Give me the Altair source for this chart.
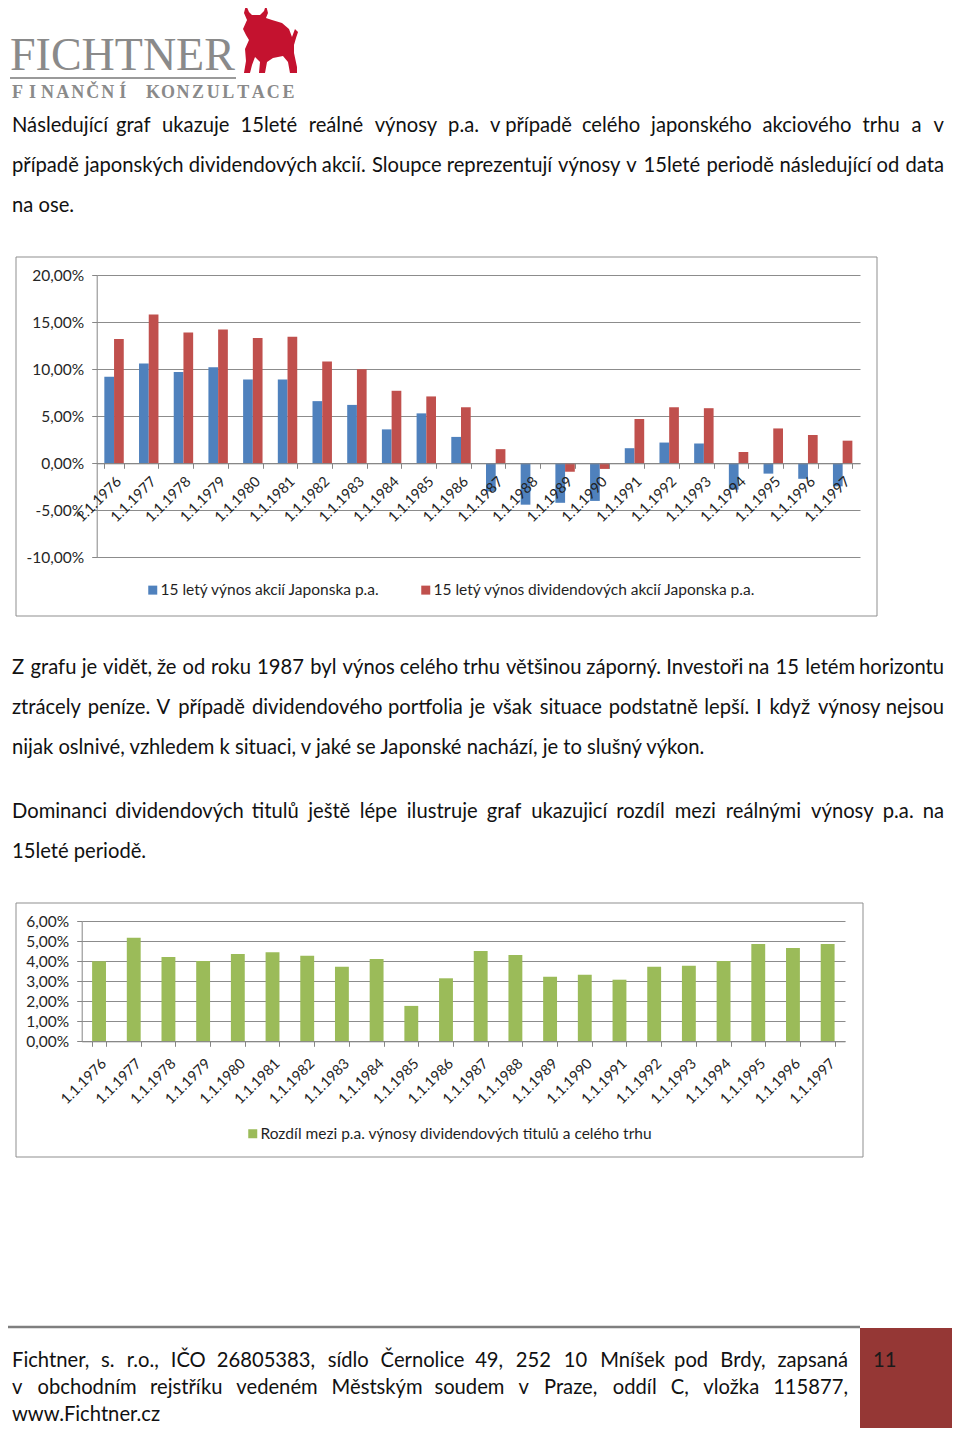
import unicodedata
import altair as alt
import pandas as pd

W, H = 944, 1420

# ---------------- data ----------------
dates = ["1.1.1976", "1.1.1977", "1.1.1978", "1.1.1979", "1.1.1980", "1.1.1981",
         "1.1.1982", "1.1.1983", "1.1.1984", "1.1.1985", "1.1.1986", "1.1.1987",
         "1.1.1988", "1.1.1989", "1.1.1990", "1.1.1991", "1.1.1992", "1.1.1993",
         "1.1.1994", "1.1.1995", "1.1.1996", "1.1.1997"]
market = [9.2, 10.6, 9.7, 10.2, 8.9, 8.9, 6.6, 6.2, 3.6, 5.3, 2.8, -3.0,
          -4.4, -4.2, -4.0, 1.6, 2.2, 2.1, -2.8, -1.1, -1.65, -2.45]
dividend = [13.2, 15.8, 13.9, 14.2, 13.3, 13.45, 10.8, 10.0, 7.7, 7.1, 5.95, 1.5,
            0.0, -0.9, -0.6, 4.7, 5.95, 5.85, 1.2, 3.7, 3.0, 2.4]
difference = [4.0, 5.18, 4.22, 4.02, 4.37, 4.45, 4.28, 3.73, 4.12, 1.77, 3.15, 4.52,
              4.32, 3.23, 3.33, 3.08, 3.73, 3.78, 4.02, 4.87, 4.67, 4.87]
series_names = ["15 letý výnos akcií Japonska p.a.",
                "15 letý výnos dividendových akcií Japonska p.a."]
diff_name = "Rozdíl mezi p.a. výnosy dividendových titulů a celého trhu"
y1_ticks = [-10, -5, 0, 5, 10, 15, 20]
y2_ticks = [0, 1, 2, 3, 4, 5, 6]

logo_name = "FICHTNER"
logo_sub = "FINANČNÍ KONZULTACE"
para1 = ["Následující graf ukazuje 15leté reálné výnosy p.a. v\u00a0případě celého japonského akciového trhu a v",
         "případě japonských dividendových akcií. Sloupce reprezentují výnosy v 15leté periodě následující od data",
         "na ose."]
para2 = ["Z grafu je vidět, že od roku 1987 byl výnos celého trhu většinou záporný. Investoři na 15 letém horizontu",
         "ztrácely peníze. V případě dividendového portfolia je však situace podstatně lepší. I když výnosy nejsou",
         "nijak oslnivé, vzhledem k situaci, v jaké se Japonské nachází, je to slušný výkon."]
para3 = ["Dominanci dividendových titulů ještě lépe ilustruje graf ukazujicí rozdíl mezi reálnými výnosy p.a. na",
         "15leté periodě."]
footer = ["Fichtner, s. r.o., IČO 26805383, sídlo Černolice 49, 252 10 Mníšek pod Brdy, zapsaná",
          "v  obchodním rejstříku vedeném Městským soudem v Praze, oddíl C, vložka 115877,",
          "www.Fichtner.cz"]
page_number = "11"

# ---------------- text layout helpers ----------------
LOWER = dict(a=.49, b=.55, c=.46, d=.55, e=.51, f=.32, g=.50, h=.55, i=.23, j=.23, k=.50,
             l=.23, m=.82, n=.55, o=.55, p=.55, q=.55, r=.36, s=.42, t=.35, u=.55, v=.50,
             w=.76, x=.49, y=.50, z=.44)
UPPER = dict(I=.26, J=.37, M=.81, W=.95, O=.74, D=.70, C=.64, S=.50, V=.66, Z=.60, F=.55)
PUNCT = {".": .21, ",": .21, ":": .21, "%": .74, "-": .33}


def char_w(c):
    if c in (" ", "\u00a0"):
        return 0.193
    b = unicodedata.normalize("NFD", c)[0]
    if b in LOWER:
        return LOWER[b]
    if b.isdigit():
        return 0.58
    if b.isupper():
        return UPPER.get(b, 0.63)
    return PUNCT.get(b, 0.3)


def text_w(s, size):
    return sum(char_w(c) for c in s) * size


rows = []


def place(line, y, x0, x1, size, justify, color="#111111"):
    if not justify:
        rows.append(dict(text=line, x=x0, y=y, size=size, align="left", color=color))
        return
    words = [w for w in line.split(" ") if w]
    widths = [text_w(w, size) for w in words]
    gap = (x1 - x0 - sum(widths)) / (len(words) - 1)
    x = x0
    for i, (w, wd) in enumerate(zip(words, widths)):
        if i == len(words) - 1:
            rows.append(dict(text=w, x=x1, y=y, size=size, align="right", color=color))
        else:
            rows.append(dict(text=w, x=x, y=y, size=size, align="left", color=color))
        x += wd + gap


BODY = 20.2
for lines, ys in ((para1, [118, 158, 198]), (para2, [660, 700, 740]), (para3, [804, 844])):
    for i, (ln, yy) in enumerate(zip(lines, ys)):
        place(ln, yy, 4, 936, BODY, i < len(lines) - 1)
for i, (ln, yy) in enumerate(zip(footer, [1353, 1380, 1407])):
    place(ln, yy, 4, 840, BODY, i < len(footer) - 1)
rows.append(dict(text=page_number, x=865, y=1353, size=BODY, align="left", color="#1a1a1a"))
text_df = pd.DataFrame(rows)

logo_rows = []
for i, ch in enumerate(logo_sub):
    if ch != " ":
        logo_rows.append(dict(text=ch, x=2 + 7.5 + i * 15.05, y=85, size=18))
logo_df = pd.DataFrame(logo_rows)


def text_layer(df, align, font="Lato", baseline="middle", weight="normal"):
    return alt.Chart(df).mark_text(align=align, baseline=baseline, font=font,
                                   fontWeight=weight).encode(
        x=alt.X("x:Q", scale=None, axis=None),
        y=alt.Y("y:Q", scale=None, axis=None),
        text="text:N",
        size=alt.Size("size:Q", scale=None, legend=None),
        color=alt.Color("color:N", scale=None, legend=None),
    )


one = pd.DataFrame({"a": [0]})

# ---------------- decorations ----------------
box1 = alt.Chart(one).mark_rect(fill="white", fillOpacity=0, stroke="#8f8f8f", strokeWidth=1).encode(
    x=alt.value(8), x2=alt.value(869), y=alt.value(249), y2=alt.value(608))
box2 = alt.Chart(one).mark_rect(fill="white", fillOpacity=0, stroke="#8f8f8f", strokeWidth=1).encode(
    x=alt.value(8), x2=alt.value(855), y=alt.value(895), y2=alt.value(1149))

label_expr = "replace(replace(format(datum.value, '.2f'), '.', ','), '\u2212', '-') + '%'"

# ---------------- chart 1 ----------------
df1 = pd.DataFrame({
    "date": dates * 2,
    "series": [series_names[0]] * len(dates) + [series_names[1]] * len(dates),
    "value": market + dividend,
})
c1 = alt.Chart(df1).mark_bar().encode(
    x=alt.X("date:N", sort=dates,
            scale=alt.Scale(range=[88.7, 852], paddingInner=0.44, paddingOuter=0.22),
            axis=alt.Axis(title=None, orient="bottom", offset=455.3 - H, labelAngle=315,
                          labelAlign="right", labelBaseline="top",
                          labelFont="Lato", labelFontSize=14.5, labelColor="#1f1f1f",
                          labelPadding=6, domainColor="#868686", tickColor="#868686",
                          tickSize=5, tickBand="extent", grid=False, zindex=1)),
    xOffset=alt.XOffset("series:N", sort=series_names,
                        scale=alt.Scale(paddingInner=0, paddingOuter=0)),
    y=alt.Y("value:Q", stack=None,
            scale=alt.Scale(domain=[-10, 20], range=[549.4, 267], nice=False),
            axis=alt.Axis(title=None, orient="left", values=y1_ticks, offset=-88.7,
                          labelExpr=label_expr, grid=True, gridColor="#8c8c8c",
                          domainColor="#868686", tickColor="#868686", tickSize=5,
                          labelFont="Lato", labelFontSize=15.5, labelColor="#262626",
                          labelPadding=8, zindex=0)),
    y2=alt.datum(0),
    color=alt.Color("series:N", sort=series_names,
                    scale=alt.Scale(domain=series_names, range=["#4F81BD", "#C0504D"]),
                    legend=alt.Legend(orient="none", legendX=137, legendY=574,
                                      direction="horizontal", title=None,
                                      symbolType="square", symbolSize=81,
                                      symbolStrokeWidth=0, labelFont="Lato",
                                      labelFontSize=15.5, labelColor="#1f1f1f",
                                      labelLimit=600, labelOffset=0, columnPadding=38)),
)

# ---------------- chart 2 ----------------
df2 = pd.DataFrame({"date": dates, "series": [diff_name] * len(dates), "value": difference})
c2 = alt.Chart(df2).mark_bar().encode(
    x=alt.X("date:N", sort=dates,
            scale=alt.Scale(range=[73.7, 837], paddingInner=0.6, paddingOuter=0.3),
            axis=alt.Axis(title=None, orient="bottom", offset=1033.3 - H, labelAngle=315,
                          labelAlign="right", labelBaseline="top",
                          labelFont="Lato", labelFontSize=14.5, labelColor="#1f1f1f",
                          labelPadding=10, domainColor="#868686", tickColor="#868686",
                          tickSize=5, tickBand="extent", grid=False, zindex=1)),
    y=alt.Y("value:Q",
            scale=alt.Scale(domain=[0, 6], range=[1033.3, 913.3], nice=False),
            axis=alt.Axis(title=None, orient="left", values=y2_ticks, offset=-73.7,
                          labelExpr=label_expr, grid=True, gridColor="#8c8c8c",
                          domainColor="#868686", tickColor="#868686", tickSize=5,
                          labelFont="Lato", labelFontSize=15.5, labelColor="#262626",
                          labelPadding=8, zindex=0)),
    color=alt.Color("series:N",
                    scale=alt.Scale(domain=[diff_name], range=["#9BBB59"]),
                    legend=alt.Legend(orient="none", legendX=237, legendY=1118,
                                      title=None, symbolType="square", symbolSize=81,
                                      symbolStrokeWidth=0, labelFont="Lato",
                                      labelFontSize=15.5, labelColor="#1f1f1f",
                                      labelLimit=600, labelOffset=0)),
)

# ---------------- logo ----------------
name_df = pd.DataFrame([dict(text=logo_name, x=2, y=62, size=46, color="#8a8a8a")])
logo_name_layer = text_layer(name_df, "left", font="Liberation Serif", baseline="alphabetic")
logo_df["color"] = "#8a8a8a"
logo_sub_layer = text_layer(logo_df, "center", font="Liberation Serif", weight="bold")
logo_rule = alt.Chart(one).mark_rule(color="#9a9a9a", strokeWidth=2).encode(
    x=alt.value(2), x2=alt.value(228), y=alt.value(70))

bull_pts = [(4, 0), (7, 7), (10, 10), (18, 10), (22, 6), (24, 0), (26, 8), (24, 13),
            (30, 15), (40, 18), (47, 24), (50, 32), (53, 24), (56, 27), (54, 33),
            (52, 40), (52, 48), (55, 62), (55, 68), (48, 68), (46, 57), (41, 51),
            (31, 53), (25, 57), (23, 68), (17, 68), (18, 57), (13, 52), (10, 60),
            (8, 68), (2, 68), (4, 56), (3, 44), (7, 35), (4, 30), (1, 24), (5, 15),
            (2, 8)]
bull_path = "M " + " L ".join(f"{(x - 28) / 34:.3f} {(y - 34) / 34:.3f}" for x, y in bull_pts) + " Z"
bull = alt.Chart(one).mark_point(shape=bull_path, filled=True, size=4624, opacity=1,
                                 color="#c4122f", strokeWidth=0).encode(
    x=alt.value(262), y=alt.value(31))

# ---------------- footer decorations ----------------
foot_rule = alt.Chart(one).mark_rule(color="#7f7f7f", strokeWidth=2.5).encode(
    x=alt.value(0), x2=alt.value(852), y=alt.value(1319))
foot_box = alt.Chart(one).mark_rect(color="#953735").encode(
    x=alt.value(852), x2=alt.value(W), y=alt.value(1320), y2=alt.value(H))

body_left = text_layer(text_df[text_df["align"] == "left"], "left")
body_right = text_layer(text_df[text_df["align"] == "right"], "right")

chart = alt.layer(
    box1, box2, foot_box, foot_rule, logo_rule, bull,
    c1, c2, logo_name_layer, logo_sub_layer, body_left, body_right,
).resolve_scale(
    x="independent", y="independent", color="independent", xOffset="independent"
).resolve_axis(x="independent", y="independent").resolve_legend(
    color="independent"
).properties(
    width=W, height=H, padding=0, background="white",
    autosize=alt.AutoSizeParams(type="none")
).configure_view(stroke=None)

chart.save("out.html", embed_options={"renderer": "svg", "actions": False})
